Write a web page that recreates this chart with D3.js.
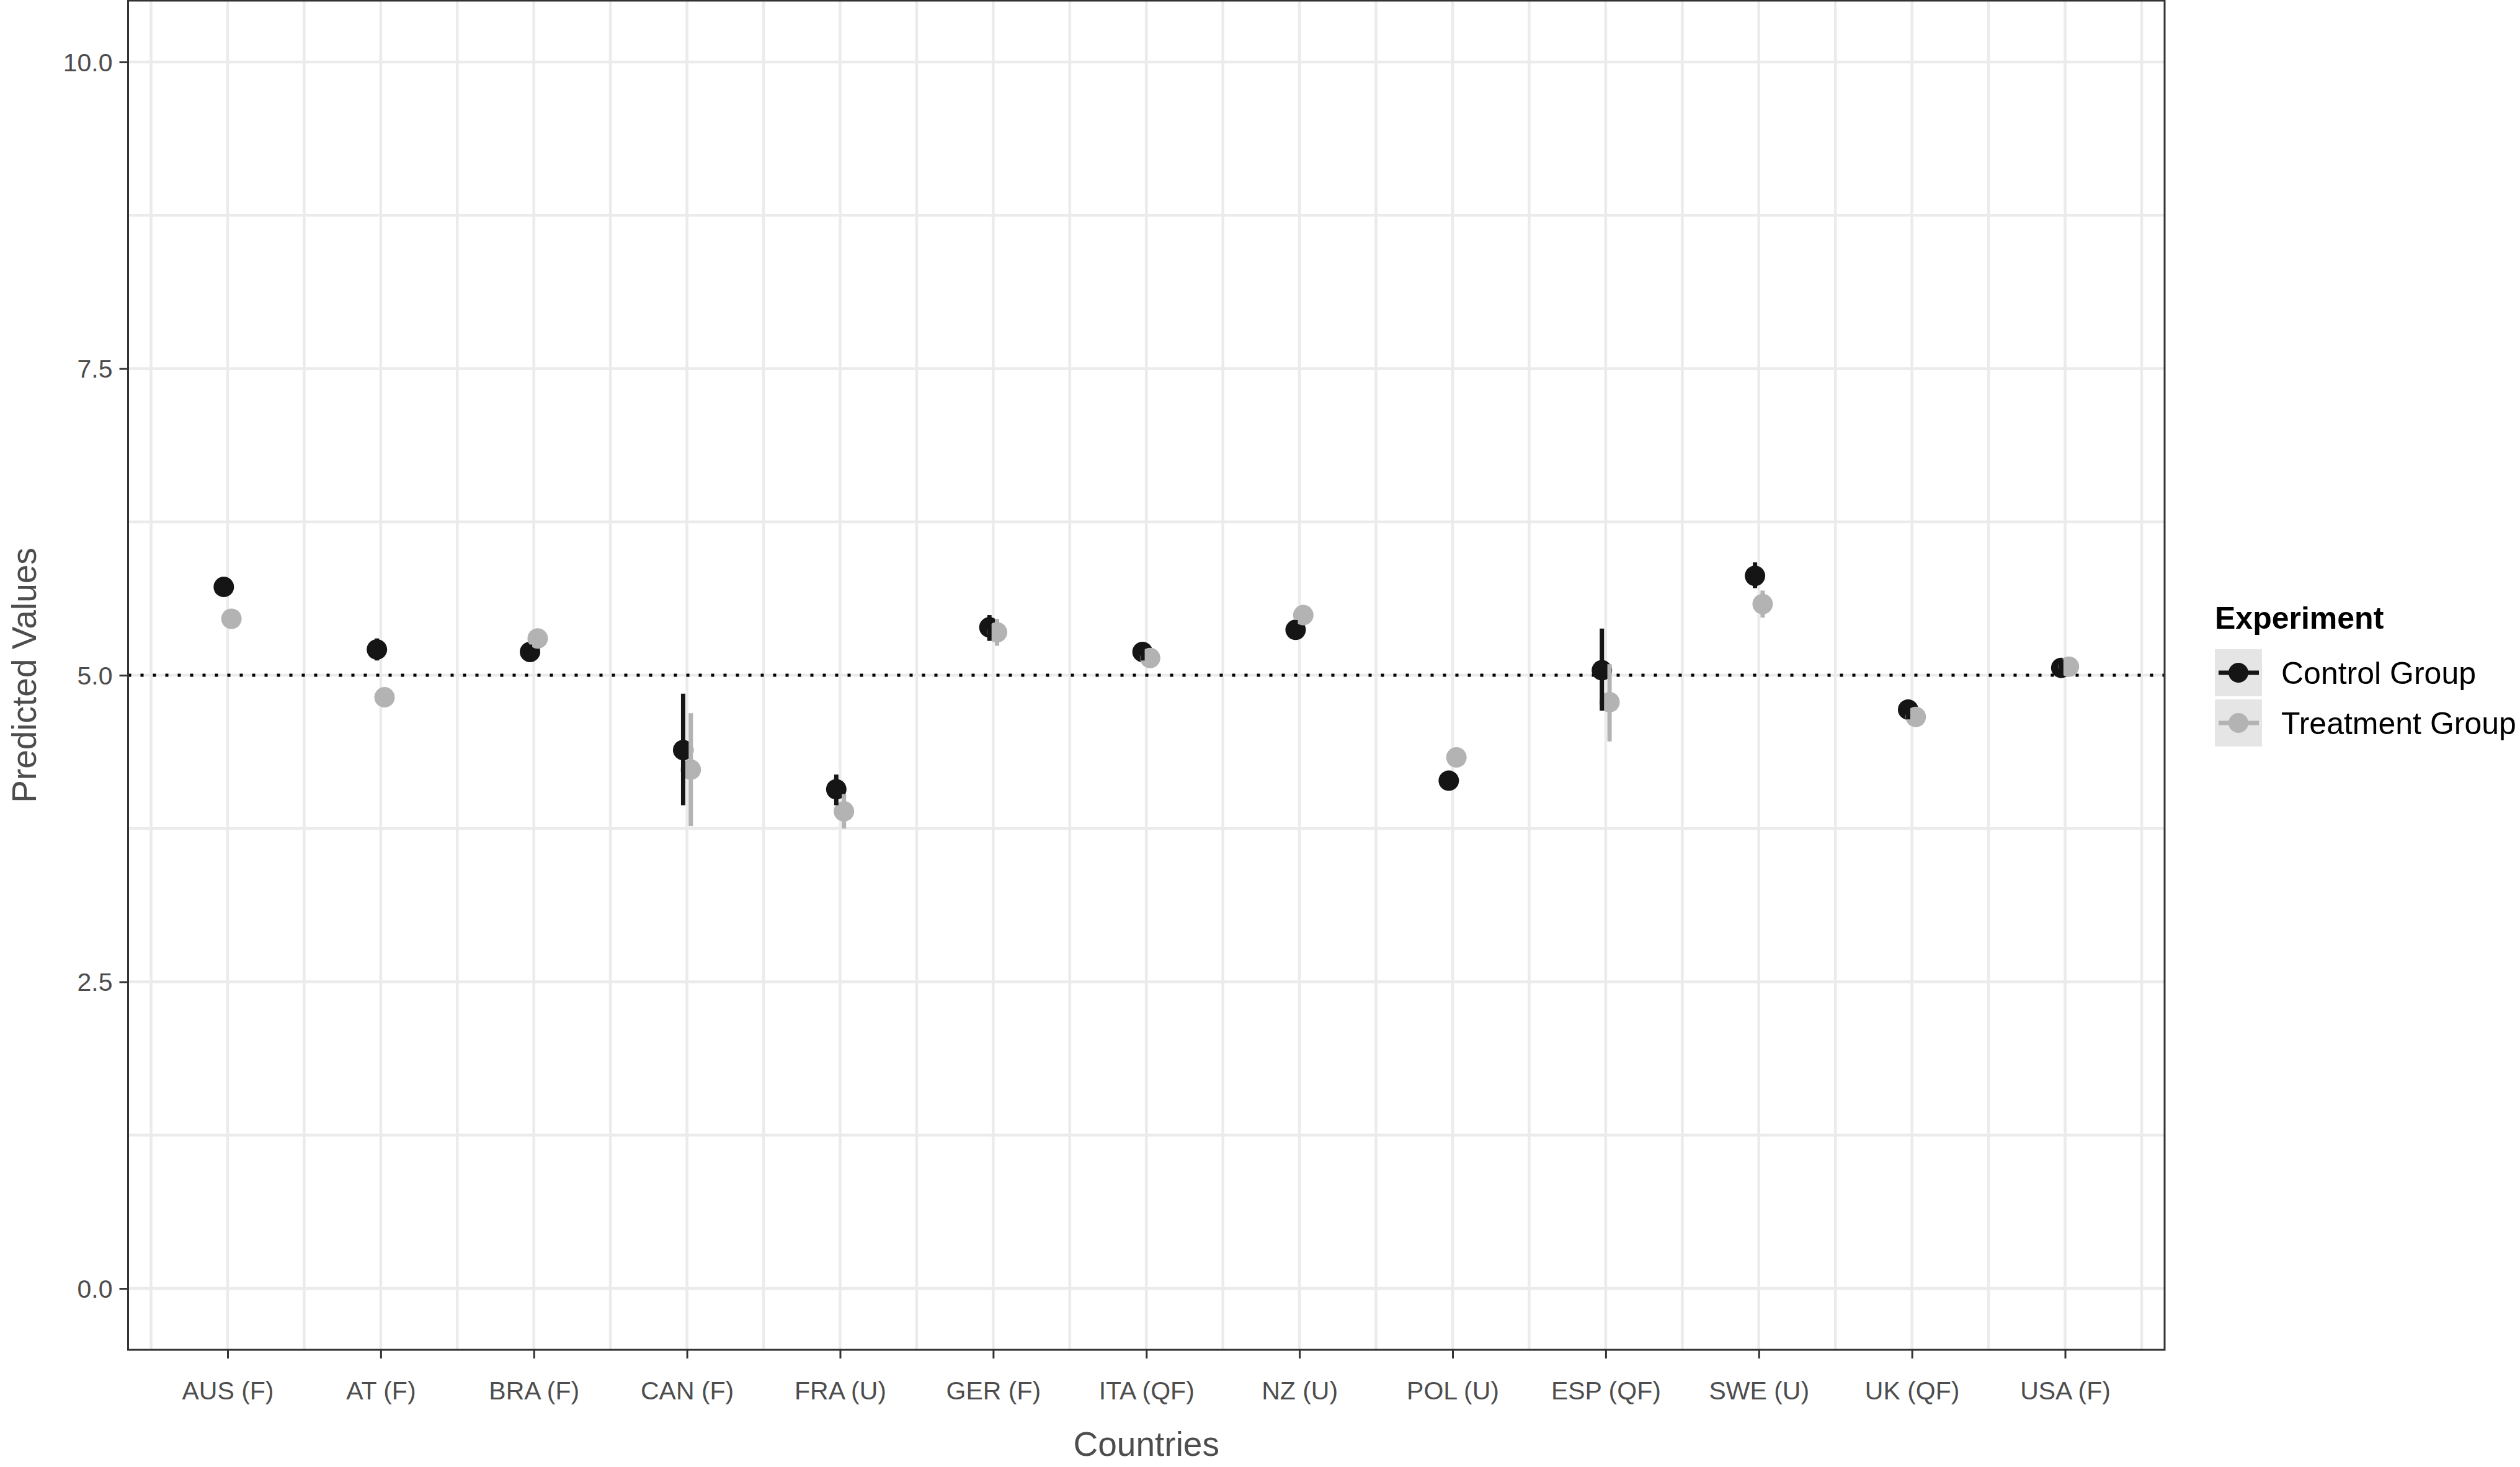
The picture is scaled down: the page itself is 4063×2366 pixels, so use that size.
<!DOCTYPE html>
<html lang="en">
<head>
<meta charset="UTF-8" />
<title>Predicted Values by Country</title>
<script src="https://d3js.org/d3.v7.min.js"></script>
<style>
  body { margin: 0; background: #fff; }
  svg { display: block; font-family: "Liberation Sans", Arial, sans-serif; }
  .tick text { fill: #4d4d4d; font-size: 41px; }
  .tick line { stroke: #333; stroke-width: 3; }
</style>
</head>
<body>
<div id="chart"></div>
<script>
// countries (x categories)
const categories = ['AUS (F)', 'AT (F)', 'BRA (F)', 'CAN (F)', 'FRA (U)', 'GER (F)', 'ITA (QF)',
                    'NZ (U)', 'POL (U)', 'ESP (QF)', 'SWE (U)', 'UK (QF)', 'USA (F)'];

// Control Group: estimate and interval
const control     = [5.72, 5.21, 5.19, 4.39, 4.07, 5.39, 5.19, 5.37, 4.14, 5.04, 5.81, 4.72, 5.06];
const controlLow  = [5.66, 5.12, 5.14, 3.94, 3.94, 5.28, 5.12, 5.30, 4.08, 4.71, 5.71, 4.64, 4.99];
const controlHigh = [5.78, 5.30, 5.25, 4.85, 4.19, 5.49, 5.26, 5.45, 4.20, 5.38, 5.92, 4.80, 5.13];

// Treatment Group: estimate and interval
const treatment     = [5.46, 4.82, 5.30, 4.23, 3.89, 5.35, 5.14, 5.49, 4.33, 4.78, 5.58, 4.66, 5.07];
const treatmentLow  = [5.41, 4.76, 5.25, 3.77, 3.75, 5.24, 5.08, 5.43, 4.28, 4.46, 5.47, 4.60, 5.01];
const treatmentHigh = [5.52, 4.87, 5.36, 4.69, 4.03, 5.46, 5.20, 5.55, 4.39, 5.09, 5.69, 4.72, 5.13];

const groups = ['Control Group', 'Treatment Group'];
const yTicks = [0, 2.5, 5, 7.5, 10];
const yMinor = [1.25, 3.75, 6.25, 8.75];
const refLine = 5;

const W = 4063, H = 2366;
const panel = { left: 206.5, right: 3490, top: 1, bottom: 2177 };

const svg = d3.select('#chart').append('svg').attr('width', W).attr('height', H);

const x = d3.scaleLinear().domain([-0.65, categories.length - 1 + 0.65]).range([panel.left, panel.right]);
const y = d3.scaleLinear().domain([-0.5, 10.5]).range([panel.bottom, panel.top]);
const colour = d3.scaleOrdinal().domain(groups).range(['#151515', '#b3b3b3']);
const dodge = d3.scaleOrdinal().domain(groups).range([-0.025, 0.025]);

// build rows for each group
const rows = [];
categories.forEach((c, i) => {
  rows.push({ g: groups[0], i, v: control[i], lo: controlLow[i], hi: controlHigh[i] });
});
categories.forEach((c, i) => {
  rows.push({ g: groups[1], i, v: treatment[i], lo: treatmentLow[i], hi: treatmentHigh[i] });
});

// panel background + grid
svg.append('rect').attr('x', panel.left).attr('y', panel.top)
  .attr('width', panel.right - panel.left).attr('height', panel.bottom - panel.top).attr('fill', '#fff');

const grid = svg.append('g').attr('stroke', '#ebebeb').attr('stroke-width', 4.5);
const xMinor = d3.range(-0.5, categories.length, 1);
grid.selectAll('.vminor').data(xMinor).join('line')
  .attr('x1', d => x(d)).attr('x2', d => x(d)).attr('y1', panel.top).attr('y2', panel.bottom);
grid.selectAll('.vmajor').data(d3.range(categories.length)).join('line')
  .attr('x1', d => x(d)).attr('x2', d => x(d)).attr('y1', panel.top).attr('y2', panel.bottom);
grid.selectAll('.hminor').data(yMinor).join('line')
  .attr('x1', panel.left).attr('x2', panel.right).attr('y1', d => y(d)).attr('y2', d => y(d));
grid.selectAll('.hmajor').data(yTicks).join('line')
  .attr('x1', panel.left).attr('x2', panel.right).attr('y1', d => y(d)).attr('y2', d => y(d));

// dotted reference line
svg.append('line')
  .attr('x1', panel.left).attr('x2', panel.right)
  .attr('y1', y(refLine)).attr('y2', y(refLine))
  .attr('stroke', '#000').attr('stroke-width', 5).attr('stroke-dasharray', '5 15');

// points first, ranges on top
svg.append('g').selectAll('circle').data(rows).join('circle')
  .attr('cx', d => x(d.i + dodge(d.g))).attr('cy', d => y(d.v))
  .attr('r', 16.5).attr('fill', d => colour(d.g));

svg.append('g').selectAll('line').data(rows).join('line')
  .attr('x1', d => x(d.i + dodge(d.g))).attr('x2', d => x(d.i + dodge(d.g)))
  .attr('y1', d => y(d.lo)).attr('y2', d => y(d.hi))
  .attr('stroke', d => colour(d.g)).attr('stroke-width', 7);

// panel border
svg.append('rect').attr('x', panel.left).attr('y', panel.top)
  .attr('width', panel.right - panel.left).attr('height', panel.bottom - panel.top)
  .attr('fill', 'none').attr('stroke', '#333').attr('stroke-width', 3);

// axes
const yAxis = svg.append('g').attr('transform', `translate(${panel.left},0)`)
  .call(d3.axisLeft(y).tickValues(yTicks).tickFormat(d3.format('.1f')).tickSize(14).tickPadding(11));
yAxis.select('.domain').remove();
yAxis.selectAll('text').attr('dy', '0.35em');

const xAxis = svg.append('g').attr('transform', `translate(0,${panel.bottom})`)
  .call(d3.axisBottom(x).tickValues(d3.range(categories.length)).tickFormat(i => categories[i]).tickSize(14).tickPadding(37));
xAxis.select('.domain').remove();

// axis titles
svg.append('text').attr('x', (panel.left + panel.right) / 2).attr('y', 2348)
  .attr('text-anchor', 'middle').attr('font-size', 55).attr('fill', '#4d4d4d').text('Countries');
svg.append('text').attr('transform', `translate(58,${(panel.top + panel.bottom) / 2}) rotate(-90)`)
  .attr('text-anchor', 'middle').attr('font-size', 55).attr('fill', '#4d4d4d').text('Predicted Values');

// legend
const legend = svg.append('g').attr('transform', 'translate(3571,0)');
legend.append('text').attr('x', 0).attr('y', 1014)
  .attr('font-size', 50).attr('font-weight', 'bold').attr('fill', '#000').text('Experiment');
const keys = legend.selectAll('.key').data(groups).join('g')
  .attr('transform', (d, i) => `translate(0,${1047 + i * 81})`);
keys.append('rect').attr('width', 76).attr('height', 76).attr('fill', '#e5e5e5');
keys.append('line').attr('x1', 6).attr('x2', 71).attr('y1', 38).attr('y2', 38)
  .attr('stroke', d => colour(d)).attr('stroke-width', 7);
keys.append('circle').attr('cx', 38).attr('cy', 38).attr('r', 16).attr('fill', d => colour(d));
keys.append('text').attr('x', 107).attr('y', 38).attr('dy', '0.35em')
  .attr('font-size', 50).attr('fill', '#000').text(d => d);
</script>
</body>
</html>
